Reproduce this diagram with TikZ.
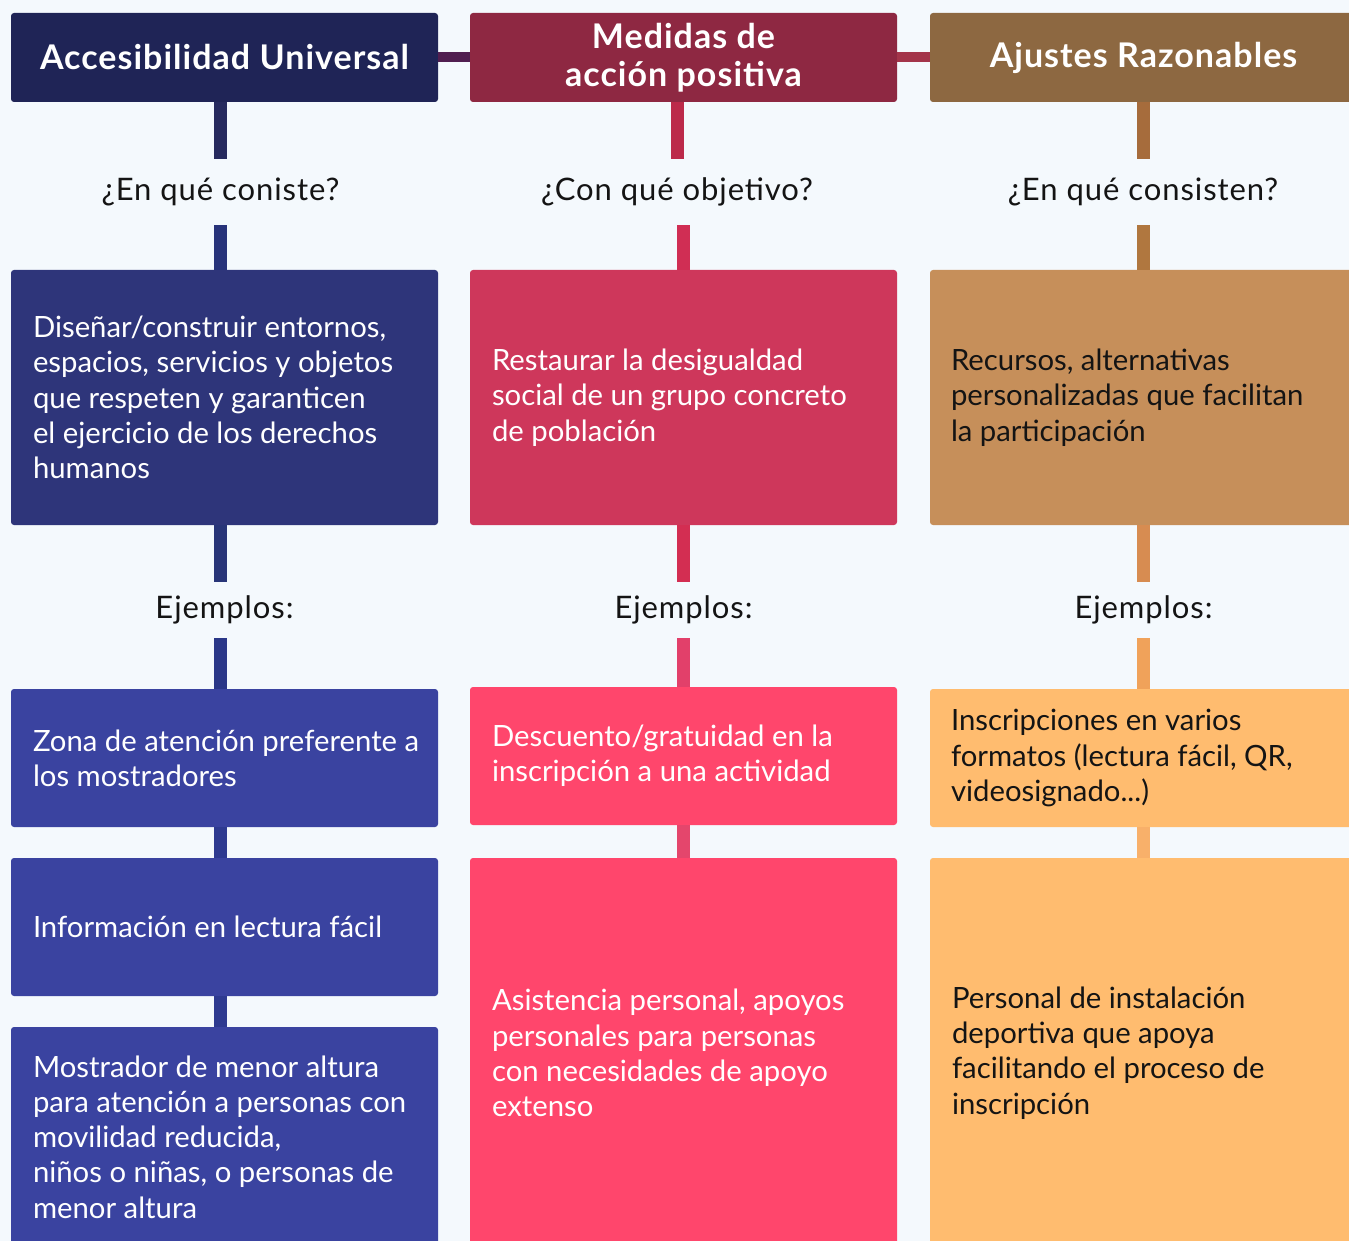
\documentclass[tikz,border=0pt]{standalone}
\usepackage{fontspec}
\setmainfont{Lato}
\newfontfamily\hdrfont{Lato}[LetterSpace=3]
\newfontfamily\lblfont{Lato}[LetterSpace=3]
\definecolor{bg}{HTML}{F4F9FD}
\definecolor{hA}{HTML}{1F2456}
\definecolor{hB}{HTML}{8E2842}
\definecolor{hC}{HTML}{8D6841}
\definecolor{dA}{HTML}{2E357A}
\definecolor{dB}{HTML}{CE375B}
\definecolor{dC}{HTML}{C68F5A}
\definecolor{xA}{HTML}{3A43A0}
\definecolor{xB}{HTML}{FF466C}
\definecolor{xC}{HTML}{FFBC6F}
\definecolor{txt}{HTML}{141414}
\begin{document}
\begin{tikzpicture}[x=1pt,y=-1pt,
 hdr/.style={rounded corners=3pt, text=white, font=\hdrfont\fontsize{34}{38}\selectfont\bfseries, minimum width=427pt, minimum height=89pt, align=center, inner sep=0pt},
 card/.style={rounded corners=3pt, minimum width=427pt, inner sep=0pt},
 ctext/.style={text=white, font=\fontsize{29.3}{35.3}\selectfont, align=left, inner sep=0pt, anchor=west},
 dark/.style={text=txt},
 lbl/.style={font=\lblfont\fontsize{31}{34}\selectfont, text=txt, inner sep=0pt, minimum width=300pt},
 link/.style={line width=13pt}]
\useasboundingbox[fill=bg] (0,0) rectangle (1349,1241);
\clip (0,0) rectangle (1349,1241);
% headers
\node[hdr, fill=hA] (h1) at (224.5,57.5) {Accesibilidad Universal};
\node[hdr, fill=hB] (h2) at (683.5,57.5) {Medidas de\\acción positiva};
\node[hdr, fill=hC] (h3) at (1143.5,57.5) {Ajustes Razonables};
% questions
\node[lbl, minimum height=66pt] (q1) at (220.5,192) {¿En qué coniste?};
\node[lbl, minimum height=66pt] (q2) at (677,192) {¿Con qué objetivo?};
\node[lbl, minimum height=66pt] (q3) at (1143,192) {¿En qué consisten?};
% definitions
\node[card, fill=dA, minimum height=255pt] (d1) at (224.5,397.5) {};
\node[card, fill=dB, minimum height=255pt] (d2) at (683.5,397.5) {};
\node[card, fill=dC, minimum height=255pt] (d3) at (1143.5,397.5) {};
\node[ctext] (d1t) at ([xshift=22pt]d1.west) {Diseñar/construir entornos,\\espacios, servicios y objetos\\que respeten y garanticen\\el ejercicio de los derechos\\humanos};
\node[ctext] (d2t) at ([xshift=22pt]d2.west) {Restaurar la desigualdad\\social de un grupo concreto\\de población};
\node[ctext, dark] (d3t) at ([xshift=21pt]d3.west) {Recursos, alternativas\\personalizadas que facilitan\\la participación};
% ejemplos
\node[lbl, minimum height=56pt] (e1) at (224.5,610) {Ejemplos:};
\node[lbl, minimum height=56pt] (e2) at (683.5,610) {Ejemplos:};
\node[lbl, minimum height=56pt] (e3) at (1143.5,610) {Ejemplos:};
% examples col 1
\node[card, fill=xA, minimum height=138pt] (a1) at (224.5,758) {};
\node[card, fill=xA, minimum height=138pt] (a2) at (224.5,927) {};
\node[card, fill=xA, minimum height=220pt] (a3) at (224.5,1137) {};
\node[ctext] (a1t) at ([xshift=22pt]a1.west) {Zona de atención preferente a\\los mostradores};
\node[ctext] (a2t) at ([xshift=22pt]a2.west) {Información en lectura fácil};
\node[ctext] (a3t) at ([xshift=22pt]a3.west) {Mostrador de menor altura\\para atención a personas con\\movilidad reducida,\\niños o niñas, o personas de\\menor altura};
% examples col 2
\node[card, fill=xB, minimum height=138pt] (b1) at (683.5,756) {};
\node[card, fill=xB, minimum height=390pt] (b2) at (683.5,1053) {};
\node[ctext] (b1t) at ([xshift=22pt]b1.west) {Descuento/gratuidad en la\\inscripción a una actividad};
\node[ctext] (b2t) at ([xshift=22pt]b2.west) {Asistencia personal, apoyos\\personales para personas\\con necesidades de apoyo\\extenso};
% examples col 3
\node[card, fill=xC, minimum height=138pt] (c1) at (1143.5,758) {};
\node[card, fill=xC, minimum height=390pt] (c2) at (1143.5,1053) {};
\node[ctext, dark] (c1t) at ([xshift=21pt]c1.west) {Inscripciones en varios\\formatos (lectura fácil, QR,\\videosignado...)};
\node[ctext, dark] (c2t) at ([xshift=22pt]c2.west) {Personal de instalación\\deportiva que apoya\\facilitando el proceso de\\inscripción};
% horizontal links
\draw[line width=10pt, color={rgb,255:red,80;green,30;blue,80}] (h1.east) -- (h2.west);
\draw[line width=10pt, color={rgb,255:red,163;green,53;blue,74}] (h2.east) -- (h3.west);
% column 1 links
\draw[link, color={rgb,255:red,38;green,42;blue,94}] (h1.south -| q1) -- (q1.north);
\draw[link, color={rgb,255:red,39;green,51;blue,122}] (q1.south) -- (q1.south |- d1.north);
\draw[link, color={rgb,255:red,40;green,53;blue,120}] (d1.south -| q1) -- (e1.north -| q1);
\draw[link, color={rgb,255:red,42;green,55;blue,136}] (e1.south -| q1) -- (a1.north -| q1);
\draw[link, color={rgb,255:red,46;green,58;blue,144}] (a1.south -| q1) -- (a2.north -| q1);
\draw[link, color={rgb,255:red,46;green,58;blue,144}] (a2.south -| q1) -- (a3.north -| q1);
% column 2 links
\draw[link, color={rgb,255:red,188;green,42;blue,74}] (h2.south -| q2) -- (q2.north);
\draw[link, color={rgb,255:red,208;green,46;blue,84}] (q2.south -| d2) -- (d2.north);
\draw[link, color={rgb,255:red,211;green,46;blue,82}] (d2.south) -- (e2.north);
\draw[link, color={rgb,255:red,226;green,64;blue,106}] (e2.south) -- (b1.north);
\draw[link, color={rgb,255:red,228;green,70;blue,108}] (b1.south) -- (b2.north);
% column 3 links
\draw[link, color={rgb,255:red,166;green,108;blue,60}] (h3.south -| q3) -- (q3.north);
\draw[link, color={rgb,255:red,176;green,119;blue,63}] (q3.south) -- (q3.south |- d3.north);
\draw[link, color={rgb,255:red,215;green,140;blue,81}] (d3.south -| q3) -- (e3.north -| q3);
\draw[link, color={rgb,255:red,240;green,162;blue,90}] (e3.south -| q3) -- (c1.north -| q3);
\draw[link, color={rgb,255:red,248;green,176;blue,106}] (c1.south -| q3) -- (c2.north -| q3);
\end{tikzpicture}
\end{document}
